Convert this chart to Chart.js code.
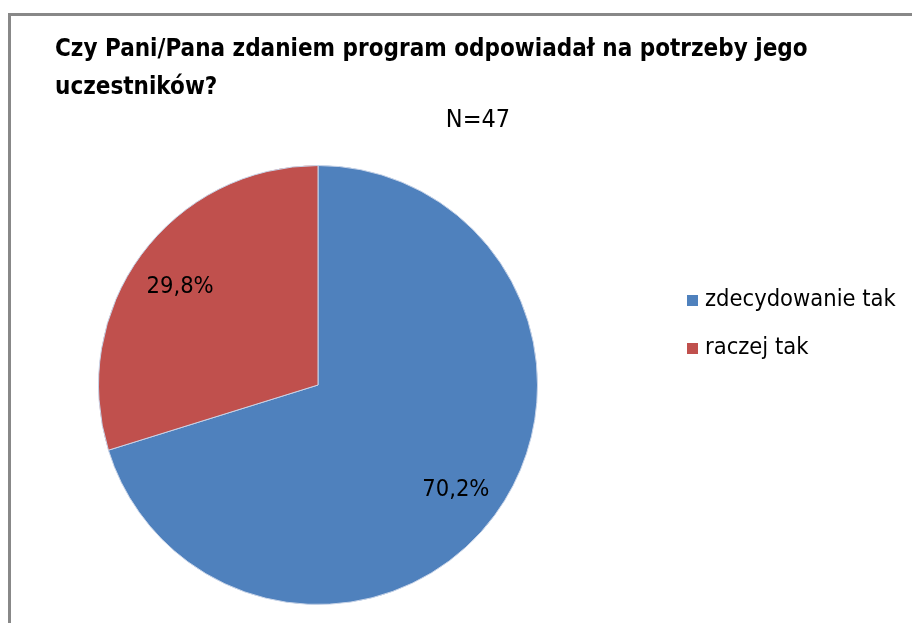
<!DOCTYPE html>
<html lang="pl">
<head>
  <meta charset="UTF-8" />
  <title>Czy Pani/Pana zdaniem program odpowiadał na potrzeby jego uczestników?</title>
  <script src="https://cdn.jsdelivr.net/npm/chart.js"></script>
  <style>
    body {
      margin: 0;
      background: #fff;
      font-family: 'Liberation Sans Narrow', 'DejaVu Sans Condensed', 'Noto Sans', sans-serif;
    }
    .frame {
      position: absolute;
      left: 8px;
      top: 13px;
      width: 920px;
      height: 640px;
      border-left: 3px solid #888;
      border-top: 3px solid #888;
    }
    .title {
      position: absolute;
      left: 55px;
      top: 29px;
      font-size: 24px;
      font-weight: bold;
      line-height: 38px;
      color: #000;
      white-space: nowrap;
    }
    .subtitle {
      position: absolute;
      left: 378px;
      width: 200px;
      top: 104px;
      text-align: center;
      font-size: 25px;
      color: #000;
    }
    .chart-box {
      position: absolute;
      left: 0;
      top: 0;
      width: 912px;
      height: 623px;
    }
  </style>
</head>
<body>
  <div class="frame"></div>
  <div class="chart-box"><canvas id="pieChart" width="912" height="623"></canvas></div>
  <div class="title">Czy Pani/Pana zdaniem program odpowiadał na potrzeby jego<br>uczestników?</div>
  <div class="subtitle">N=47</div>

  <script>
    const categories = ['zdecydowanie tak', 'raczej tak'];
    const percentValues = [70.2, 29.8];
    const sliceColors = ['#4f81bd', '#c0504d'];

    // percent labels inside slices, polish decimal comma
    const sliceLabels = {
      id: 'sliceLabels',
      afterDatasetsDraw(chart) {
        const ctx = chart.ctx;
        const meta = chart.getDatasetMeta(0);
        ctx.save();
        ctx.font = '23.5px "Liberation Sans Narrow", "DejaVu Sans Condensed", "Noto Sans", sans-serif';
        ctx.fillStyle = '#000';
        ctx.textAlign = 'center';
        ctx.textBaseline = 'middle';
        meta.data.forEach((arc, i) => {
          const mid = (arc.startAngle + arc.endAngle) / 2;
          const r = arc.outerRadius * 0.78;
          const x = arc.x + Math.cos(mid) * r;
          const y = arc.y + Math.sin(mid) * r;
          ctx.fillText(percentValues[i].toFixed(1).replace('.', ',') + '%', x, y + 3);
        });
        ctx.restore();
      }
    };

    const sideLegend = {
      id: 'sideLegend',
      afterDraw(chart) {
        const ctx = chart.ctx;
        ctx.save();
        ctx.font = '23.5px "Liberation Sans Narrow", "DejaVu Sans Condensed", "Noto Sans", sans-serif';
        ctx.textBaseline = 'middle';
        categories.forEach((name, i) => {
          const y = 300 + i * 48;
          ctx.fillStyle = sliceColors[i];
          ctx.fillRect(687, y - 5, 11, 11);
          ctx.fillStyle = '#000';
          ctx.fillText(name, 705, y);
        });
        ctx.restore();
      }
    };

    new Chart(document.getElementById('pieChart'), {
      type: 'pie',
      data: {
        labels: categories,
        datasets: [{
          data: percentValues,
          backgroundColor: sliceColors,
          borderColor: '#c8d4e8',
          borderWidth: 1
        }]
      },
      options: {
        responsive: false,
        animation: false,
        layout: {
          padding: { left: 98, right: 374, top: 165, bottom: 18 }
        },
        plugins: {
          legend: { display: false },
          tooltip: { enabled: false }
        }
      },
      plugins: [sliceLabels, sideLegend]
    });
  </script>
</body>
</html>
